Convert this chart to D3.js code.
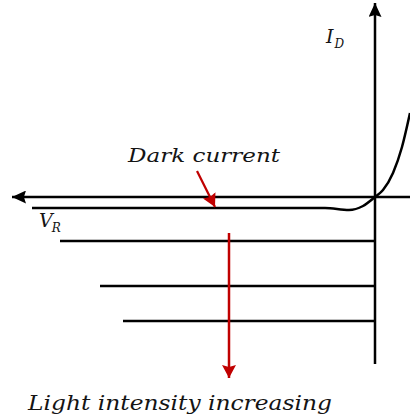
<!DOCTYPE html>
<html>
<head>
<meta charset="utf-8">
<script src="https://cdn.jsdelivr.net/npm/d3@7"></script>
<style>
  html, body { margin: 0; padding: 0; background: #fff; }
  svg { display: block; }
  .lbl { font-family: "DejaVu Serif", serif; font-style: italic; fill: #141414; }
</style>
</head>
<body>
<div id="chart"></div>
<script>
// photodiode I-V sketch, units: volts (x) and current (y), arbitrary scale
const axisV = [-36.3, 3.5];   // horizontal axis from tip (left) to right edge
const axisI = [-16.7, 19.4];  // vertical axis from bottom to tip

// dark current curve (reverse leakage + forward exponential)
const darkV = [-34.3, -5.0, -2.6, -1.2, 0, 0.8, 1.8, 2.7, 3.5];
const darkI = [-1.1, -1.1, -1.3, -0.9, 0, 0.7, 2.4, 5.0, 8.4];

// photo current levels for increasing light intensity
const lightNames = ['low', 'medium', 'high'];
const lightI = [-4.4, -8.9, -12.4];
const lightStartV = [-31.5, -27.5, -25.2];

const width = 410, height = 420;

const svg = d3.select('#chart')
    .append('svg')
    .attr('width', width)
    .attr('height', height);

const xScale = d3.scaleLinear().domain([-40, 4]).range([-25, 415]);
const yScale = d3.scaleLinear().domain([-20, 20]).range([397, -3]);

const defs = svg.append('defs');
function marker(id, color, w, h) {
    defs.append('marker')
        .attr('id', id)
        .attr('markerUnits', 'userSpaceOnUse')
        .attr('viewBox', `0 0 ${w} ${h}`)
        .attr('refX', w)
        .attr('refY', h / 2)
        .attr('markerWidth', w)
        .attr('markerHeight', h)
        .attr('orient', 'auto')
        .append('path')
        .attr('d', `M0,0 L${w},${h / 2} L0,${h} L${w * 0.15},${h / 2} Z`)
        .attr('fill', color);
}
marker('arrK', '#000', 14, 13);
marker('arrR', '#c00000', 13, 14);

// axes
svg.append('line')
    .attr('x1', xScale(axisV[1])).attr('y1', yScale(0))
    .attr('x2', xScale(axisV[0])).attr('y2', yScale(0))
    .attr('stroke', '#000').attr('stroke-width', 2.5)
    .attr('marker-end', 'url(#arrK)');

svg.append('line')
    .attr('x1', xScale(0)).attr('y1', yScale(axisI[0]))
    .attr('x2', xScale(0)).attr('y2', yScale(axisI[1]))
    .attr('stroke', '#000').attr('stroke-width', 2.5)
    .attr('marker-end', 'url(#arrK)');

// dark current curve
const darkPts = darkV.map((v, i) => [v, darkI[i]]);
const line = d3.line()
    .x(d => xScale(d[0]))
    .y(d => yScale(d[1]))
    .curve(d3.curveMonotoneX);

svg.append('path')
    .datum(darkPts)
    .attr('d', line)
    .attr('fill', 'none')
    .attr('stroke', '#000')
    .attr('stroke-width', 2.5);

// light current lines
svg.selectAll('.light')
    .data(lightNames)
    .enter()
    .append('line')
    .attr('class', 'light')
    .attr('x1', (d, i) => xScale(lightStartV[i]))
    .attr('x2', xScale(0))
    .attr('y1', (d, i) => yScale(lightI[i]))
    .attr('y2', (d, i) => yScale(lightI[i]))
    .attr('stroke', '#000')
    .attr('stroke-width', 2.5);

// annotation arrows
svg.append('line')
    .attr('x1', xScale(-17.8)).attr('y1', yScale(2.6))
    .attr('x2', xScale(-16.0)).attr('y2', yScale(-1.0))
    .attr('stroke', '#c00000').attr('stroke-width', 2.2)
    .attr('marker-end', 'url(#arrR)');

svg.append('line')
    .attr('x1', xScale(-14.6)).attr('y1', yScale(-3.6))
    .attr('x2', xScale(-14.6)).attr('y2', yScale(-18.1))
    .attr('stroke', '#c00000').attr('stroke-width', 2.5)
    .attr('marker-end', 'url(#arrR)');

// labels
svg.append('text')
    .attr('class', 'lbl')
    .attr('x', 128).attr('y', 162)
    .attr('font-size', 19)
    .attr('textLength', 152)
    .attr('lengthAdjust', 'spacingAndGlyphs')
    .text('Dark current');

svg.append('text')
    .attr('class', 'lbl')
    .attr('x', 28).attr('y', 410)
    .attr('font-size', 20)
    .attr('textLength', 304)
    .attr('lengthAdjust', 'spacingAndGlyphs')
    .text('Light intensity increasing');

const id = svg.append('text')
    .attr('class', 'lbl')
    .attr('x', 326).attr('y', 43)
    .attr('font-size', 19);
id.append('tspan').text('I');
id.append('tspan').attr('font-size', 12).attr('dx', 1).attr('dy', 5).text('D');

const vr = svg.append('text')
    .attr('class', 'lbl')
    .attr('x', 39).attr('y', 227)
    .attr('font-size', 19);
vr.append('tspan').text('V');
vr.append('tspan').attr('font-size', 12).attr('dx', -1).attr('dy', 5).text('R');
</script>
</body>
</html>
